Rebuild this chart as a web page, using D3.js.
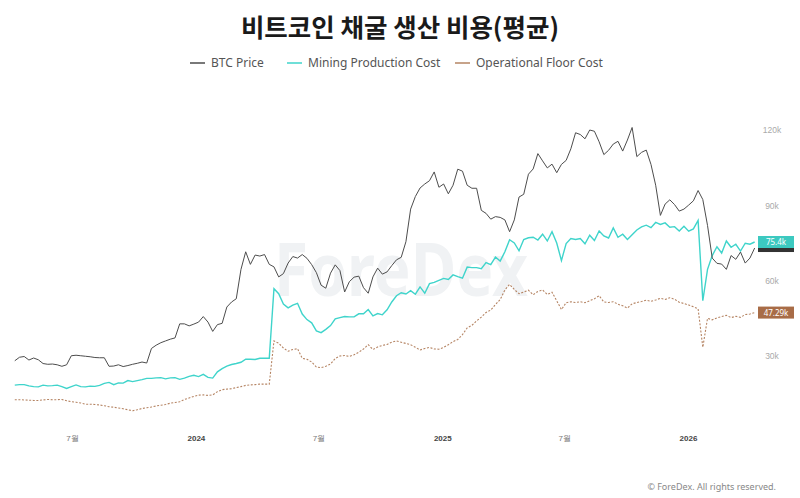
<!DOCTYPE html>
<html>
<head>
<meta charset="utf-8">
<script src="https://cdn.jsdelivr.net/npm/d3@7"></script>
<style>
  body { margin: 0; background: #fff; }
  svg { display: block; font-family: "Noto Sans", "Noto Sans CJK KR", sans-serif; }
</style>
</head>
<body>
<script>
// weekly closes (k USD), Fridays from 2023-04-07
const dates = d3.timeFriday.range(new Date(2023, 3, 7), new Date(2026, 3, 11));

const btcPrice = [
  28.1, 29.5, 29.8, 28.4, 29.2, 28.5, 27.0, 26.7, 26.8, 26.5, 25.9, 26.5, 30.1, 30.3, 30.1, 29.9,
  29.7, 29.4, 29.3, 29.3, 25.9, 26.0, 26.5, 25.8, 26.2, 26.7, 27.1, 27.6, 27.2, 33.0, 34.3, 35.3,
  36.0, 36.7, 37.2, 42.8, 42.8, 42.0, 42.7, 43.5, 45.7, 43.5, 39.8, 42.5, 43.0, 49.5, 51.5, 52.8,
  64.5, 71.5, 66.5, 70.2, 69.8, 70.4, 66.5, 65.5, 61.5, 62.8, 67.0, 69.6, 69.0, 70.4, 68.9, 66.4,
  63.2, 58.2, 57.0, 63.0, 66.3, 64.0, 55.5, 59.6, 61.4, 61.8, 57.2, 55.0, 61.5, 65.0, 62.6, 63.5,
  66.0, 68.3, 69.3, 75.5, 88.5, 93.5, 96.9, 98.5, 99.8, 103.3, 97.2, 98.5, 94.6, 98.0, 104.4, 103.6,
  98.0, 96.8, 96.8, 88.0, 86.8, 84.5, 85.5, 85.2, 84.2, 79.5, 84.2, 93.3, 94.4, 102.4, 104.5, 110.6,
  107.7, 104.9, 106.4, 103.0, 106.3, 107.9, 112.5, 118.9, 118.2, 116.5, 120.0, 119.5, 115.3, 110.2, 111.9, 114.4,
  115.5, 111.6, 116.0, 121.0, 109.4, 111.1, 112.0, 106.3, 98.0, 86.0, 90.5, 92.2, 90.3, 87.7, 88.5, 90.1,
  91.8, 95.9, 92.3, 82.0, 69.0, 66.9, 66.6, 64.5, 70.0, 68.5, 71.4, 67.0, 69.0, 73.0
];

const miningCost = [
  18.4, 18.6, 18.6, 18.1, 17.8, 17.7, 18.4, 18.1, 18.2, 18.4, 17.8, 17.1, 17.8, 18.5, 17.8, 17.7,
  18.0, 17.9, 18.3, 19.1, 19.5, 18.6, 19.3, 19.2, 20.2, 19.8, 20.2, 20.6, 21.1, 21.1, 21.3, 21.4,
  20.9, 21.3, 21.4, 20.7, 21.2, 21.9, 22.3, 21.8, 22.7, 21.5, 21.2, 23.7, 25.0, 26.0, 26.6, 27.0,
  27.5, 28.7, 28.7, 28.6, 29.1, 29.1, 29.1, 56.8, 54.8, 50.7, 49.2, 50.3, 51.0, 46.7, 44.5, 43.2,
  40.0, 39.3, 40.6, 42.1, 44.8, 45.3, 45.7, 45.6, 45.6, 46.8, 46.8, 48.5, 46.0, 46.9, 46.4, 48.4,
  51.5, 54.0, 55.2, 54.7, 56.0, 54.6, 57.5, 55.0, 58.8, 59.3, 60.1, 60.9, 60.5, 62.3, 61.6, 61.0,
  65.4, 65.2, 65.2, 64.8, 67.2, 66.4, 69.4, 67.8, 71.5, 76.3, 75.0, 71.9, 76.4, 77.1, 77.3, 76.2,
  78.5, 75.8, 79.5, 75.0, 68.0, 74.8, 76.8, 76.4, 76.8, 74.7, 78.1, 76.0, 79.8, 77.8, 77.0, 81.0,
  77.3, 78.5, 76.4, 78.3, 80.2, 81.4, 82.1, 81.1, 83.2, 82.4, 83.0, 81.3, 81.5, 79.8, 81.7, 79.7,
  80.6, 84.0, 52.0, 64.5, 70.0, 73.5, 71.0, 75.8, 73.3, 74.5, 71.8, 74.9, 74.5, 75.4
];

const floorCost = [
  12.6, 12.6, 12.5, 12.4, 12.3, 12.3, 12.5, 12.7, 12.6, 12.6, 12.7, 12.2, 11.8, 11.6, 11.3, 10.8,
  10.8, 10.7, 10.5, 10.2, 9.8, 9.6, 9.3, 9.0, 8.6, 8.2, 8.6, 9.1, 9.4, 9.7, 10.1, 10.4,
  10.7, 11.2, 11.5, 11.8, 12.7, 13.3, 13.9, 14.4, 14.5, 14.3, 14.5, 15.8, 16.6, 16.8, 17.0, 17.4,
  17.8, 18.3, 18.5, 18.6, 18.8, 18.8, 18.8, 36.0, 35.1, 33.2, 31.9, 32.6, 32.9, 29.1, 28.7, 27.6,
  25.6, 25.4, 25.9, 26.8, 29.0, 30.0, 30.2, 29.8, 30.5, 31.5, 32.8, 34.5, 32.6, 33.6, 34.2, 34.6,
  35.5, 36.0, 35.5, 35.0, 34.5, 33.5, 32.4, 33.0, 33.4, 32.8, 32.7, 33.4, 34.5, 35.7, 36.6, 38.5,
  41.2, 42.2, 44.0, 45.5, 47.3, 48.3, 50.5, 52.5, 56.3, 58.5, 56.5, 54.8, 55.5, 56.2, 54.4, 55.7,
  56.3, 54.5, 55.4, 52.0, 48.5, 51.2, 51.6, 51.3, 51.6, 51.2, 52.0, 52.8, 54.0, 51.5, 51.3, 51.6,
  50.6, 50.0, 49.1, 50.8, 51.3, 51.7, 52.2, 51.8, 52.3, 53.0, 52.5, 53.2, 52.6, 51.4, 50.9, 50.3,
  49.6, 48.8, 33.5, 45.0, 44.4, 45.2, 45.7, 46.2, 45.3, 45.8, 45.4, 46.5, 46.7, 47.29
];

const seriesNames = ['BTC Price', 'Mining Production Cost', 'Operational Floor Cost'];
const yTicks = [30, 60, 90, 120];
const xTicks = [new Date(2023, 6, 1), new Date(2024, 0, 1), new Date(2024, 6, 1),
                new Date(2025, 0, 1), new Date(2025, 6, 1), new Date(2026, 0, 1)];

const width = 800;
const height = 498;

const svg = d3.select('body').append('svg')
    .attr('width', width)
    .attr('height', height);

const x = d3.scaleTime()
    .domain([new Date(2023, 6, 1), new Date(2026, 0, 1)])
    .range([72, 688]);

const y = d3.scaleLinear()
    .domain([30, 120])
    .range([356, 130]);

const colors = ['#4d4d4d', '#3fd4cb', '#b58463'];

// watermark
svg.append('text')
    .attr('x', 401)
    .attr('y', 296)
    .attr('text-anchor', 'middle')
    .attr('font-size', 74)
    .attr('font-weight', 700)
    .attr('textLength', 254)
    .attr('lengthAdjust', 'spacingAndGlyphs')
    .attr('fill', '#f0f2f4')
    .text('ForeDex');

// title
svg.append('text')
    .attr('x', 400)
    .attr('y', 37)
    .attr('text-anchor', 'middle')
    .attr('font-family', '"Noto Sans CJK KR", sans-serif')
    .attr('font-size', 25.5)
    .attr('font-weight', 700)
    .attr('fill', '#1a1a1a')
    .text('비트코인 채굴 생산 비용(평균)');

// legend
const legendX = [190, 287, 455];
const legend = svg.append('g');
seriesNames.forEach((name, i) => {
    legend.append('line')
        .attr('x1', legendX[i]).attr('x2', legendX[i] + 15)
        .attr('y1', 63).attr('y2', 63)
        .attr('stroke', colors[i])
        .attr('stroke-width', 1.5);
    legend.append('text')
        .attr('x', legendX[i] + 21)
        .attr('y', 67)
        .attr('font-size', 12)
        .attr('fill', '#555')
        .text(name);
});

// lines
const line = values => d3.line()
    .x((d, i) => x(dates[i]))
    .y(d => y(d))(values);

svg.append('path')
    .attr('d', line(floorCost))
    .attr('fill', 'none')
    .attr('stroke', colors[2])
    .attr('stroke-width', 1.1)
    .attr('stroke-dasharray', '2,1.6');

svg.append('path')
    .attr('d', line(miningCost))
    .attr('fill', 'none')
    .attr('stroke', colors[1])
    .attr('stroke-width', 1.4);

svg.append('path')
    .attr('d', line(btcPrice))
    .attr('fill', 'none')
    .attr('stroke', colors[0])
    .attr('stroke-width', 1);

// x axis
const xAxis = d3.axisBottom(x)
    .tickValues(xTicks)
    .tickSize(0)
    .tickFormat(d => d.getMonth() === 0 ? d3.timeFormat('%Y')(d) : '7월');

const gx = svg.append('g')
    .attr('transform', 'translate(0,432)')
    .call(xAxis);
gx.select('.domain').remove();
gx.selectAll('text')
    .attr('font-size', 8)
    .attr('fill', d => d.getMonth() === 0 ? '#444' : '#777')
    .attr('font-weight', d => d.getMonth() === 0 ? 700 : 400);

// y axis
const yAxis = d3.axisRight(y)
    .tickValues(yTicks)
    .tickSize(0)
    .tickFormat(d => d + 'k');

const gy = svg.append('g')
    .attr('transform', 'translate(764,0)')
    .call(yAxis);
gy.select('.domain').remove();
gy.selectAll('text')
    .attr('x', 8)
    .attr('text-anchor', 'middle')
    .attr('font-size', 8.5)
    .attr('fill', '#aaa');

// last value labels (BTC label sits mostly behind the mining cost label)
const lastLabels = [
    { v: btcPrice[btcPrice.length - 1], c: '#333', t: '', h: 8 },
    { v: miningCost[miningCost.length - 1], c: '#3cc9c0', t: '75.4k', h: 12 },
    { v: floorCost[floorCost.length - 1], c: '#a86c47', t: '47.29k', h: 12 }
];
lastLabels.forEach(l => {
    svg.append('rect')
        .attr('x', 758)
        .attr('y', y(l.v) - l.h / 2)
        .attr('width', 36)
        .attr('height', l.h)
        .attr('fill', l.c);
    svg.append('text')
        .attr('x', 776)
        .attr('y', y(l.v) + 3)
        .attr('text-anchor', 'middle')
        .attr('font-size', 8)
        .attr('fill', '#fff')
        .text(l.t);
});

// footer
svg.append('text')
    .attr('x', 776)
    .attr('y', 490)
    .attr('text-anchor', 'end')
    .attr('font-size', 9)
    .attr('fill', '#888')
    .text('© ForeDex. All rights reserved.');
</script>
</body>
</html>
